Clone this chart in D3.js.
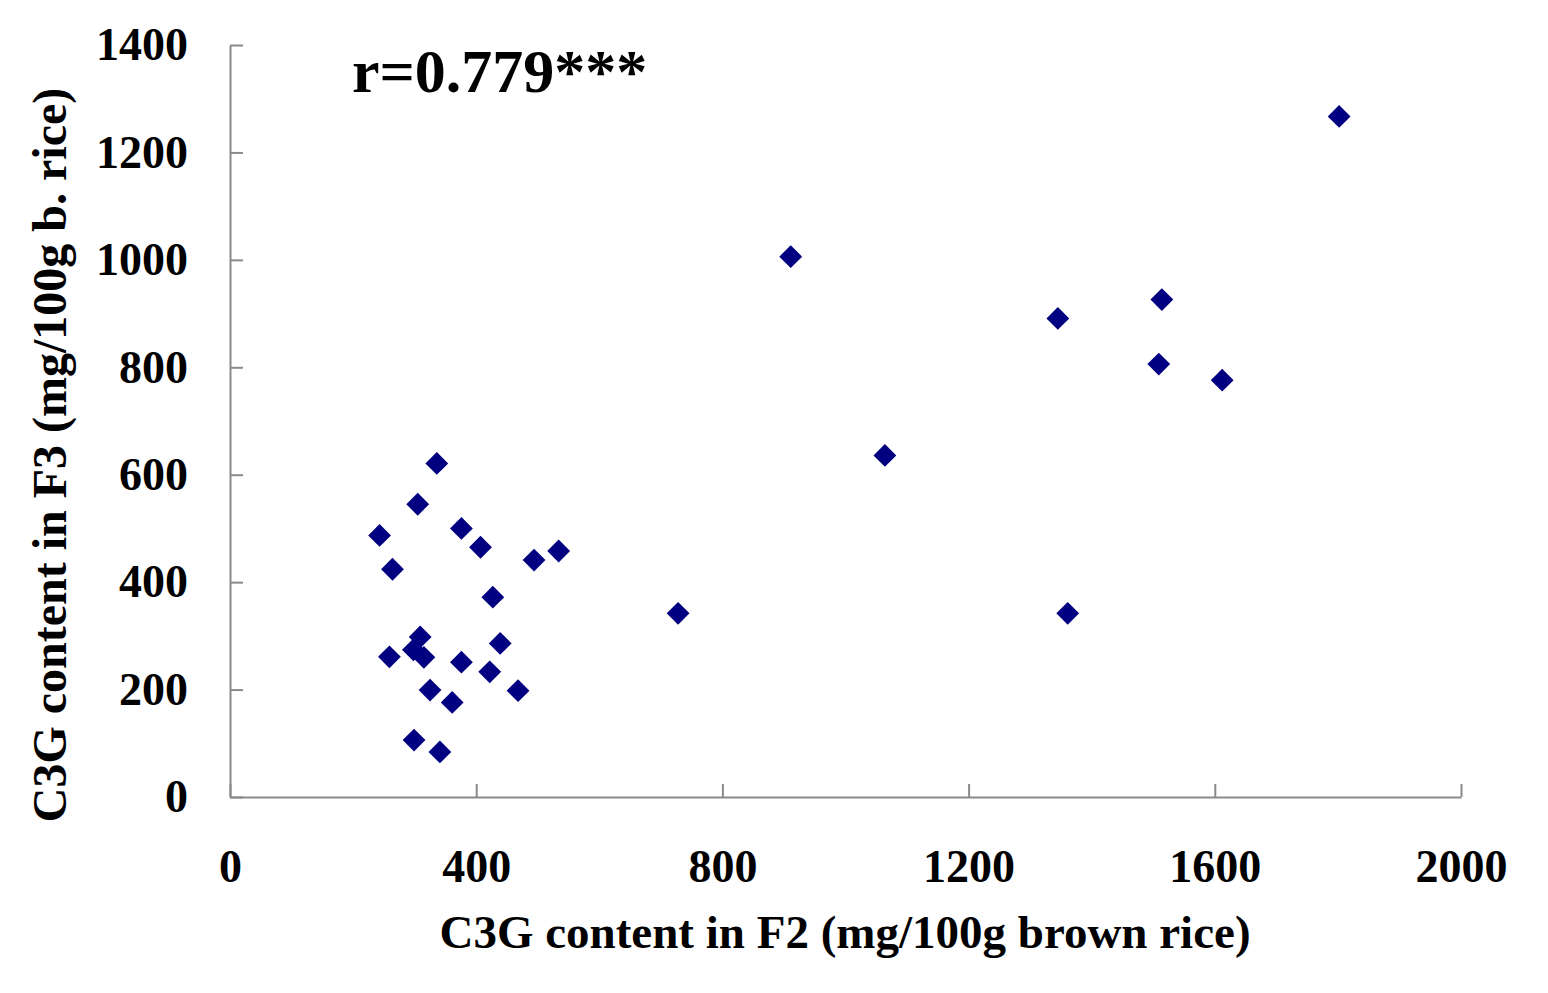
<!DOCTYPE html>
<html>
<head>
<meta charset="utf-8">
<script src="https://cdn.jsdelivr.net/npm/d3@7"></script>
<style>
  body { margin: 0; background: #fff; }
  text { font-family: "Liberation Serif", "Times New Roman", serif; font-weight: bold; fill: #000; }
</style>
</head>
<body>
<div id="chart"></div>
<script>
// C3G content, F2 (x) vs F3 (y), mg/100g brown rice
const f2Values = [1802, 911, 1514, 1345, 1509, 1612, 1064, 728, 1361,
    336, 305, 243, 376, 407, 264, 494, 534, 427, 309,
    259, 298, 315, 439, 376, 422, 325, 468, 361, 299, 341];
const f3Values = [1267, 1006, 926, 891, 806, 776, 636, 342, 342,
    621, 545, 487, 500, 465, 424, 441, 458, 372, 298,
    261, 274, 260, 286, 251, 233, 199, 198, 176, 106, 84];
const xTicks = [0, 400, 800, 1200, 1600, 2000];
const yTicks = [0, 200, 400, 600, 800, 1000, 1200, 1400];
const corrLabel = "r=0.779***";

const margin = { top: 45, right: 87, bottom: 196, left: 230 };
const width = 1548 - margin.left - margin.right;
const height = 993 - margin.top - margin.bottom;

const svg = d3.select("#chart")
    .append("svg")
    .attr("width", width + margin.left + margin.right)
    .attr("height", height + margin.top + margin.bottom)
    .append("g")
    .attr("transform", `translate(${margin.left},${margin.top})`);

const data = f2Values.map((v, i) => ({ x: v, y: f3Values[i] }));

const x = d3.scaleLinear().domain([0, 2000]).range([0, width]);
const y = d3.scaleLinear().domain([0, 1400]).range([height, 0]);

// Axes (ticks point inward, like the Excel original)
const xAxis = svg.append("g")
    .attr("transform", `translate(0,${height})`)
    .call(d3.axisBottom(x).tickValues(xTicks).tickFormat(d3.format("d"))
        .tickSizeInner(-13).tickSizeOuter(0).tickPadding(52));

const yAxis = svg.append("g")
    .call(d3.axisLeft(y).tickValues(yTicks).tickFormat(d3.format("d"))
        .tickSizeInner(-13).tickSizeOuter(0).tickPadding(42));

[xAxis, yAxis].forEach(a => {
    a.select(".domain").attr("stroke", "#8a8a8a").attr("stroke-width", 2);
    a.selectAll(".tick line").attr("stroke", "#8a8a8a").attr("stroke-width", 2);
    a.selectAll(".tick text")
        .style("font-family", "'Liberation Serif', serif")
        .style("font-weight", "bold")
        .style("font-size", "46px")
        .attr("fill", "#000");
});

// Points (diamonds)
svg.selectAll(".pt")
    .data(data)
    .enter()
    .append("path")
    .attr("class", "pt")
    .attr("d", d3.symbol().type(d3.symbolSquare).size(260))
    .attr("transform", d => `translate(${x(d.x)},${y(d.y)}) rotate(45)`)
    .attr("fill", "#000080");

// Correlation label
svg.append("text")
    .attr("x", 122)
    .attr("y", 47)
    .style("font-size", "62px")
    .text(corrLabel);

// Axis titles
svg.append("text")
    .attr("text-anchor", "middle")
    .attr("x", 845 - margin.left)
    .attr("y", height + 151)
    .style("font-size", "47px")
    .text("C3G content in F2 (mg/100g brown rice)");

svg.append("text")
    .attr("text-anchor", "middle")
    .attr("transform", "rotate(-90)")
    .attr("x", -(455 - margin.top))
    .attr("y", -margin.left + 66)
    .style("font-size", "48px")
    .text("C3G content in F3 (mg/100g b. rice)");
</script>
</body>
</html>
